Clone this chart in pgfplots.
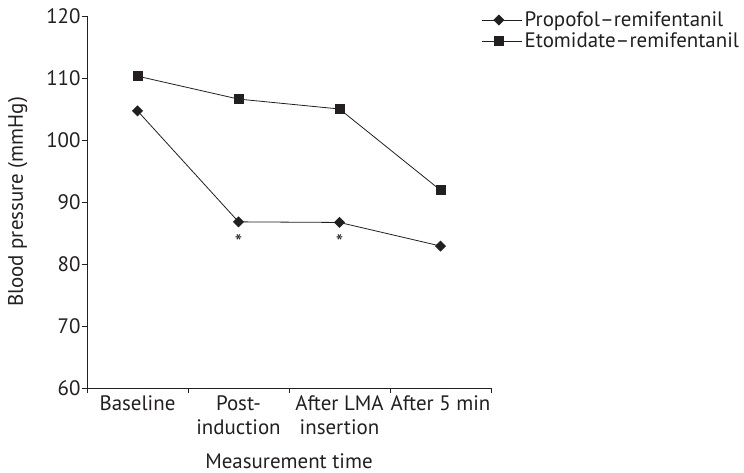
\documentclass[border=0pt]{standalone}
\usepackage{pgfplots}
\pgfplotsset{compat=1.18}
\usepackage{fontspec}
\setmainfont{PT Sans}
\definecolor{ink}{HTML}{231F20}
\newcommand\axfont{\fontsize{21}{24}\selectfont}
\newcommand\lgfont{\fontsize{21}{23}\selectfont}
\begin{document}
\begin{tikzpicture}[x=1bp,y=1bp]
\begin{axis}[
  at={(0bp,0bp)}, anchor=south west,
  scale only axis, width=404bp, height=372bp,
  xmin=-0.5, xmax=3.5, ymin=60, ymax=120,
  axis lines*=left,
  axis line style={ink, line width=0.9bp},
  tick align=outside,
  tick style={ink, line width=0.9bp},
  xtick={0,1,2,3},
  xticklabels={Baseline,{Post-\\induction},{After LMA\\insertion},After 5 min},
  major x tick style={draw=none},
  minor xtick={-0.5,0.5,1.5,2.5,3.5},
  minor tick length=5bp,
  major tick length=5bp,
  ytick={60,70,...,120},
  xticklabel style={align=center, font=\axfont, text=ink, yshift=1bp},
  yticklabel style={font=\axfont, text=ink, xshift=2bp},
  /pgf/number format/assume math mode=true,
  xlabel={Measurement time},
  ylabel={Blood pressure (mmHg)},
  xlabel style={font=\axfont, text=ink, yshift=-12bp},
  ylabel style={font=\axfont, text=ink, yshift=12bp},
  legend style={at={(axis description cs:0.977,1.017)}, anchor=north west, draw=none, fill=none,
    inner sep=0pt, font=\lgfont, text=ink, row sep=1bp, cells={anchor=west}},
  legend image code/.code={\path (0bp,0bp) -- (40bp,0bp);\draw[mark repeat=2,mark phase=2] plot coordinates {(0bp,0bp)(16.5bp,0bp)(33bp,0bp)};},
  clip=false,
]
\addplot[ink, line width=0.8bp, mark=square*, mark size=3.5bp, mark options={rotate=45, fill=ink, draw=ink}]
  coordinates {(0,104.7) (1,86.8) (2,86.7) (3,82.9)};
\addlegendentry{Propofol–remifentanil}
\addplot[ink, line width=0.8bp, mark=square*, mark size=4.5bp, mark options={fill=ink, draw=ink}]
  coordinates {(0,110.3) (1,106.6) (2,105.0) (3,91.9)};
\addlegendentry{Etomidate–remifentanil}
\node[font=\axfont, text=ink] at (axis cs:1,83.6) {*};
\node[font=\axfont, text=ink] at (axis cs:2,83.6) {*};
\end{axis}
\pgfresetboundingbox
\path[use as bounding box] (-87bp,-85bp) rectangle (657bp,388bp);
\end{tikzpicture}
\end{document}
